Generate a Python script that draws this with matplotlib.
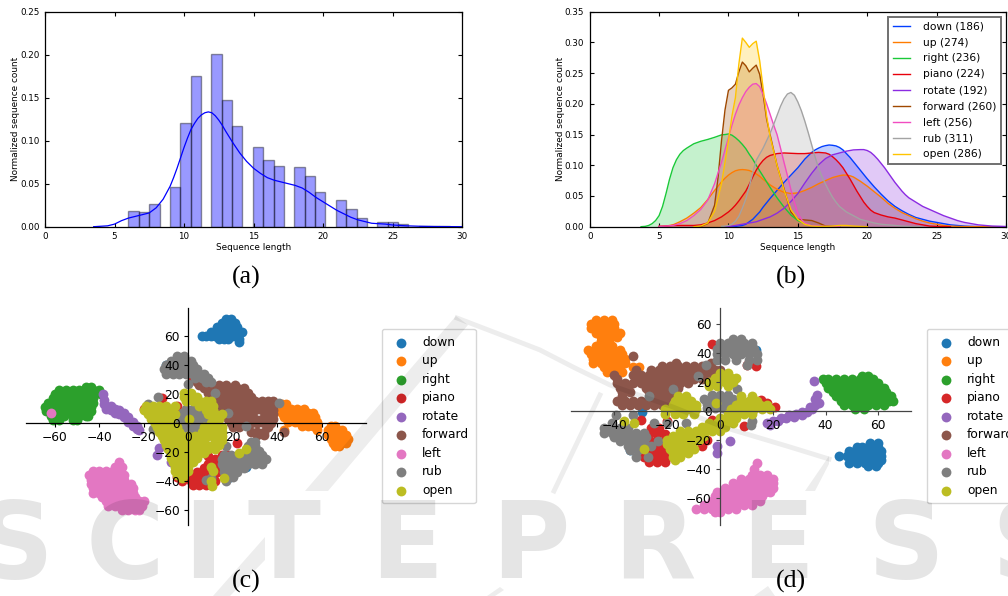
#!/usr/bin/env python3
# Sequence length histograms (a, b) and t-SNE scatters (c, d)
import matplotlib
matplotlib.use("Agg")
import matplotlib.pyplot as plt
from matplotlib.patches import Polygon
import numpy as np

W, H = 1008, 596

LABELS = ["down", "up", "right", "piano", "rotate", "forward", "left", "rub", "open"]
COUNTS = [186, 274, 236, 224, 192, 260, 256, 311, 286]
BRIGHT = ["#023eff", "#ff7c00", "#1ac938", "#e8000b", "#8b2be2",
          "#9f4800", "#f14cc1", "#a3a3a3", "#ffc400"]
TAB = ["#1f77b4", "#ff7f0e", "#2ca02c", "#d62728", "#9467bd",
       "#8c564b", "#e377c2", "#7f7f7f", "#bcbd22"]

# panel a: histogram + kde
bin_width = 0.746
bin_start = 6.0
hist_heights = [.018, .017, .026, 0, .046, .121, .175, 0, .201, .147, .117, 0,
                .093, .077, .071, 0, .069, .059, .040, 0, .031, .021, .010, 0,
                .006, .005, .003, 0, .001, .001, .001]
kde_all = [(3.5, 0), (4, .0005), (4.5, .001), (5, .003), (5.5, .007), (6, .010), (6.5, .012),
           (7, .014), (7.5, .016), (8, .022), (8.5, .032), (9, .047), (9.25, .057), (9.5, .068),
           (9.75, .080), (10, .092), (10.25, .103), (10.5, .113), (10.75, .120), (11, .126),
           (11.25, .130), (11.5, .1325), (11.75, .1335), (12, .1325), (12.25, .129), (12.5, .124),
           (12.75, .118), (13, .111), (13.5, .098), (14, .086), (14.5, .076), (15, .068),
           (15.5, .062), (16, .057), (16.5, .054), (17, .052), (17.5, .050), (18, .048),
           (18.5, .045), (19, .040), (19.5, .034), (20, .029), (20.5, .024), (21, .019),
           (21.5, .015), (22, .011), (22.5, .008), (23, .006), (23.5, .004), (24, .0035),
           (24.5, .003), (25, .002), (25.5, .0015), (26, .001), (27, .0005), (28, .0002), (30, 0)]

# panel b: one kde per class
kde_down = [(10, 0), (10.5, .0005), (11, .002), (11.25, .004), (11.5, .008), (11.75, .012), (12, .018),
            (12.25, .024), (12.5, .032), (12.75, .039), (13, .046), (13.5, .059), (14, .072),
            (14.5, .084), (15, .096), (15.5, .110), (16, .121), (16.25, .125), (16.5, .128), (16.75, .1305),
            (17, .132), (17.25, .133), (17.5, .1325), (17.75, .1315), (18, .129), (18.25, .125), (18.5, .119),
            (18.75, .113), (19, .106), (19.5, .092), (20, .078),
            (20.5, .065), (21, .053), (21.5, .042), (22, .033), (22.5, .026), (23, .020),
            (23.5, .015), (24, .012), (24.5, .009), (25, .007), (25.5, .005), (26, .003),
            (26.5, .002), (27, .001), (27.5, .0005), (28, .0002), (30, 0)]
kde_up = [(5, .0005), (5.5, .001), (6, .003), (6.5, .008), (7, .014), (7.5, .022), (8, .031),
          (8.5, .044), (9, .059), (9.5, .073), (9.75, .079), (10, .084), (10.25, .088), (10.5, .091),
          (10.75, .0925), (11, .093), (11.25, .0925), (11.5, .0915), (11.75, .089), (12, .086),
          (12.25, .082), (12.5, .077), (12.75, .073), (13, .068), (13.5, .061), (14, .056),
          (14.5, .054), (15, .055), (15.5, .059), (16, .064), (16.5, .070), (17, .075),
          (17.5, .080), (18, .083), (18.25, .084), (18.5, .084), (18.75, .083), (19, .081), (19.5, .074), (20, .066),
          (20.5, .057), (21, .048), (21.5, .038), (22, .030), (22.5, .023), (23, .018),
          (23.5, .013), (24, .009), (24.5, .006), (25, .004), (25.5, .002), (26, .001),
          (26.5, .0005), (27, .0002), (30, 0)]
kde_right = [(3.7, 0), (4, .0005), (4.25, .002), (4.5, .005), (4.75, .010), (5, .018), (5.25, .033),
             (5.5, .054), (5.75, .077), (6, .096), (6.25, .109), (6.5, .118), (6.75, .124),
             (7, .128), (7.5, .135), (8, .139), (8.5, .142), (9, .1455), (9.5, .1495), (9.75, .150),
             (10, .151), (10.25, .149), (10.5, .145), (10.75, .140), (11, .134), (11.25, .127),
             (11.5, .118), (11.75, .110), (12, .100), (12.25, .091), (12.5, .082), (12.75, .073),
             (13, .064), (13.5, .047), (14, .032), (14.5, .019), (15, .010), (15.5, .005),
             (16, .002), (16.5, .0007), (17, .0002), (18, 0)]
kde_piano = [(5, .0005), (5.5, .001), (6, .002), (7, .002), (7.5, .002), (8, .003), (8.5, .006),
             (9, .010), (9.5, .016), (9.75, .020), (10, .024), (10.25, .029), (10.5, .035),
             (10.75, .042), (11, .050), (11.25, .058), (11.5, .069), (11.75, .081), (12, .092),
             (12.25, .101), (12.5, .108), (12.75, .113), (13, .116), (13.5, .119), (14, .120),
             (14.5, .1195), (15, .119), (15.5, .119), (16, .12), (16.5, .121), (17, .12), (17.25, .118),
             (17.5, .114), (17.75, .109), (18, .103), (18.25, .096), (18.5, .087), (18.75, .078), (19, .068),
             (19.25, .058), (19.5, .049), (19.75, .040), (20, .033), (20.25, .027),
             (20.5, .023), (21, .019), (21.5, .016), (22, .014), (22.5, .011), (23, .008),
             (23.5, .005), (24, .003), (24.5, .001), (25, .0005), (26, 0)]
kde_rotate = [(9.75, 0), (10, .0005), (10.25, .001), (10.5, .002), (10.75, .003), (11, .004),
              (11.25, .005), (11.5, .006), (11.75, .007), (12, .008), (12.25, .010), (12.5, .012),
              (12.75, .014), (13, .016), (13.5, .022), (14, .030), (14.5, .041), (15, .054),
              (15.5, .071), (16, .087), (16.5, .101), (17, .111), (17.5, .117), (18, .120),
              (18.5, .123), (19, .125), (19.5, .1255), (19.75, .1255), (20, .124), (20.25, .121),
              (20.5, .116), (20.75, .110), (21, .103), (21.25, .096), (21.5, .088), (21.75, .080),
              (22, .072), (22.25, .065), (22.5, .058), (22.75, .052), (23, .047), (23.5, .040), (24, .033),
              (24.5, .028), (25, .023), (25.5, .018), (26, .014), (26.5, .010), (27, .007),
              (27.5, .005), (28, .003), (28.5, .002), (29, .001), (29.5, .0007), (30, .0003)]
kde_forward = [(7.5, 0), (8, .0005), (8.5, .005), (9, .035), (9.25, .08), (9.5, .14), (9.75, .19),
               (10, .222), (10.25, .226), (10.5, .232), (10.75, .252), (11, .268), (11.25, .262),
               (11.5, .252), (11.75, .258), (12, .263), (12.25, .248), (12.5, .215), (12.75, .175),
               (13, .150), (13.5, .100), (14, .062), (14.5, .024), (15, .012), (15.5, .011),
               (16, .010), (16.5, .006), (17, .001), (18, 0)]
kde_left = [(5, .0005), (5.5, .001), (6, .002), (6.5, .005), (7, .01), (7.5, .018), (8, .028),
            (8.5, .043), (9, .07), (9.5, .105), (9.75, .125), (10, .145), (10.25, .165), (10.5, .183),
            (10.75, .198), (11, .21), (11.25, .22), (11.5, .227), (11.75, .232), (12, .233),
            (12.25, .228), (12.5, .215), (12.75, .2), (13, .183), (13.25, .166), (13.5, .15), (13.75, .128),
            (14, .105), (14.25, .083), (14.5, .06), (14.75, .04), (15, .022), (15.25, .012),
            (15.5, .006), (16, .002), (17, .0005), (18, 0)]
kde_rub = [(9.5, .0005), (9.75, .001), (10, .002), (10.25, .004), (10.5, .009), (10.75, .017),
           (11, .03), (11.25, .045), (11.5, .065), (11.75, .088), (12, .108), (12.25, .118),
           (12.5, .128), (12.75, .14), (13, .152), (13.25, .166), (13.5, .181), (13.75, .196),
           (14, .208), (14.25, .216), (14.5, .2185), (14.75, .214), (15, .203), (15.25, .189),
           (15.5, .172), (15.75, .153), (16, .133), (16.25, .113), (16.5, .095), (16.75, .081),
           (17, .069), (17.25, .058), (17.5, .048), (17.75, .040), (18, .033), (18.5, .024),
           (19, .018), (19.5, .012), (20, .009), (20.5, .006),
           (21, .004), (21.5, .003), (22, .002), (22.5, .001), (23, .0005), (24, 0)]
kde_open = [(7.5, 0), (8, .001), (8.5, .006), (9, .025), (9.5, .07), (9.75, .105), (10, .14),
            (10.25, .18), (10.5, .21), (10.75, .265), (11, .307), (11.25, .30), (11.5, .292),
            (11.75, .298), (12, .302), (12.25, .27), (12.5, .225), (12.75, .18), (13, .147),
            (13.5, .100), (14, .06), (14.5, .028), (15, .012), (15.5, .004), (16, .001),
            (16.5, .0005), (17, .0005), (17.5, .001), (18, .002), (18.5, .002), (19, .001),
            (19.5, .0005), (20, 0)]
KDES = [kde_down, kde_up, kde_right, kde_piano, kde_rotate, kde_forward, kde_left, kde_rub, kde_open]

# panel c: embedding points, as (y, [x, ...]) rows
c_down = [(72, [17, 19]), (69, [15, 17, 19, 21]), (66, [13, 15, 17, 19, 21, 22]),
          (63, [10, 12, 14, 16, 18, 20, 22, 24]), (60, [6, 8, 10, 12, 14, 16, 18, 20, 22]),
          (58, [14, 16, 18, 23]), (56, [23]), (40, [-10]), (-30, [26]), (-38, [18])]
c_up = [(13, [42, 44]), (10, [42, 44, 46, 49, 52]), (7, [42, 44, 46, 48, 50, 52, 54, 56]),
        (4, [43, 45, 47, 49, 51, 53, 55, 57]), (1, [45, 48, 50, 52, 54, 56, 58]),
        (-2, [51, 54, 56, 58, 64, 66]), (-5, [43, 58, 63, 65, 67, 69]), (-8, [63, 65, 67, 69, 71]),
        (-11, [64, 66, 68, 70, 72]), (-14, [65, 67, 69, 71]), (-16, [66, 68])]
c_right = [(25, [-46, -44]), (23, [-58, -55, -52, -49, -46, -43, -40]),
           (20, [-60, -57, -54, -51, -48, -45, -42, -39.5]), (17, [-61, -58, -55, -52, -49, -46, -43]),
           (14, [-63, -60, -57, -54, -51, -48, -45, -43]), (11, [-64.5, -61, -58, -55, -52, -49, -46, -44]),
           (8, [-64, -61, -58, -55, -52, -49, -46, -44]), (5, [-62, -59, -56, -52, -49, -46, -45]),
           (2, [-61, -58, -52, -50])]
c_piano = [(-22, [15, 18]), (-25, [12, 15]), (-28, [9, 12, 15]), (-31, [7, 10, 13]), (-34, [4, 7, 10, 13]),
           (-37, [2, 5, 8, 11, -5]), (-40, [-3, 1, 3, 6, 9, 12]), (-43, [2, 5, 8]), (-14, [22]), (10, [-20]),
           (17, [-12]), (12, [-5]), (30, [1.5]), (-21, [-7]), (-23, [9]), (-16, [5])]
c_rotate = [(20, [-38.5]), (16, [-38]), (13, [-38]), (10, [-37, -33]), (12, [-35]), (9, [-35, -31]), (7, [-33]),
            (6, [-31]), (7, [-29]), (4, [-29, -27]), (1, [-27, -25]), (-2, [-25, -23]), (-4, [-23]), (-5, [-22]),
            (-17, [-13]), (-22, [-14]), (-27, [-8])]
c_forward = [(28, [4]), (26, [5, 8, 10, 14, 17, 21]), (24, [7, 10, 13, 16, 19, 22, 25]),
             (21, [9, 12, 15, 18, 21, 24, 27]), (18, [10, 13, 16, 19, 22, 25, 28]),
             (15, [12, 15, 18, 21, 24, 27, 30, 33, 36, 38]), (12, [14, 17, 20, 23, 26, 29, 32, 35, 38]),
             (9, [15, 18, 21, 24, 27, 30, 33, 36, 38]), (6, [16, 19, 22, 25, 28, 36, 38]),
             (3, [18, 21, 24, 27, 30, 33, 36, 38]), (0, [19, 22, 25, 28, 31, 34, 37]), (-3, [20, 23, 36]),
             (-6, [28, 31, 34, 43]), (-8, [31, 34])]
c_left = [(-27, [-31]), (-30, [-33, -30]), (-33, [-43, -40, -37, -34, -31]),
          (-36, [-44.5, -41, -38, -35, -32, -29]), (-39, [-44, -41, -38, -35, -32, -29]),
          (-42, [-44, -41, -38, -35, -32, -29, -26]), (-45, [-43, -40, -37, -34, -31, -28, -25]),
          (-48, [-43, -40, -37, -34, -31, -28, -25]), (-51, [-39, -36, -33, -30, -27, -24]),
          (-54, [-37, -34, -31, -28, -25, -22, -20]), (-57, [-36, -33, -30, -27, -24, -21]),
          (-60, [-30, -27, -24, -22]), (7, [-62])]
c_rub = [(46, [-5, -2]), (43, [-8, -5, -2, 1]), (40, [-10, -7, -4, -1, 2]), (37, [-11, -8, -5, -2, 1, 4]),
         (34, [-10, -7, -4, -1, 2, 5, 7]), (31, [3, 6, 9]), (28, [8, 10]), (27, [0]), (21, [12]),
         (10, [-1, 2]), (7, [-3, 0, 3, 5, 18]), (4, [-4, -1, 2, 5, 7]), (1, [-4, -1, 2, 5, 7]),
         (-2, [-3, 0, 3, 6, 26]), (-4, [0, 3, -16]), (14, [41]), (18, [-13.5]), (13, [-18]),
         (-13, [28, 30]), (-16, [17, 27, 30]), (-19, [26, 29, 32]), (-22, [16, 19, 24, 27, 30, 33]),
         (-25, [15, 18, 21, 24, 27, 30, 33, 35]), (-28, [15, 18, 21, 24, 27, 30, 33]),
         (-31, [16, 19, 22, 25]), (-34, [16, 19, 22]), (-37, [17, 20]), (-40, [17]), (-39, [8]), (-38, [10])]
c_open = [(21, [-2, 1]), (18, [-2, 1, 4]), (15, [-1, 2, 5, 8, 10]), (12, [-19, -16, -13, -10, -6, 5, 8, 11]),
          (9, [-20, -17, -14, -11, -8, 8, 11]), (6, [-18, -15, -12, -9, -6, 9, 12, 15]),
          (3, [-17, -14, -11, -8, 0.5, 11, 14]), (0, [-15, -12, -9, 10, 13]),
          (-3, [-14, -11, -8, -5, 7, 10, 13, 15]), (-6, [-13, -10, -7, -4, 6, 9, 12, 15]),
          (-9, [-12, -9, -6, -3, 0, 3, 6, 9, 12, 15]), (-12, [-11, -8, -5, -2, 1, 4, 7, 12, 15]),
          (-15, [-10, -7, -4, -1, 2, 5, 8, 11, 14]), (-18, [-9, -6, -3, 0, 3, 6, 9, 12, 26]),
          (-21, [-8, -5, -2, 1, 4, 7, 23]), (-24, [-8, -5, -2, 1, 4]), (-27, [-7, -4, -1, 2]),
          (-30, [-6, -3, 0, 10]), (-33, [-6, -3, 0, 11]), (-36, [-5, -2]), (-38, [-3, 16]),
          (-40, [10]), (-43.5, [10.5])]
C_POINTS = [c_down, c_up, c_right, c_piano, c_rotate, c_forward, c_left, c_rub, c_open]

# panel d
d_down = [(-22, [57, 60]), (-25, [52, 54, 56, 58, 60]), (-28, [49, 51, 53, 55, 57, 59, 61]),
          (-31, [45, 48, 50, 52, 54, 56, 58, 60, 61]), (-34, [50, 52, 54, 56, 58, 60, 61]),
          (-36, [49, 52, 55, 58, 60]), (-38, [56, 59]), (-1, [-29.5]), (42, [13.5]), (-27, [-34])]
d_up = [(63, [-47, -44, -41]), (60, [-49, -46, -43, -40]), (57, [-49, -46, -43, -40]),
        (54, [-47, -44, -41, -38]), (51, [-45, -42, -39]), (48, [-45, -42]), (45, [-47, -44, -41]),
        (42, [-50, -47, -44, -41, -38]), (39, [-49, -46, -43, -40, -37]), (36, [-48, -45, -42, -39, -36]),
        (33, [-48, -45, -42, -39, -36]), (30, [-44, -41, -38, -33, -30.7]), (27, [-43, -40, -37])]
d_right = [(24, [54, 56]), (22, [39, 41, 44, 47, 50, 53, 56, 58]), (19, [40, 43, 46, 49, 52, 55, 58, 60]),
           (16, [41, 44, 47, 50, 53, 56, 59, 62]), (13, [43, 46, 49, 52, 55, 58, 61, 63]),
           (10, [44, 47, 50, 53, 56, 59, 62, 65]), (7, [46, 49, 52, 55, 58, 61, 64, 65.5]),
           (4, [47, 50, 53, 56, 59, 62]), (1.5, [51, 54.6])]
d_piano = [(-12, [-26, -23]), (-16, [-27, -24, -21]), (-20, [-27, -24, -21, -5]), (-24, [-26, -23, -20, -6.7]),
           (-21, [-10]), (-28, [-28, -25, -22, -19]), (-32, [-29, -26, -23, -20]), (-35, [-27, -24, -21]),
           (46, [-3]), (31, [13.5]), (32, [10.4]), (2.5, [21]), (7.4, [15.4]), (5.5, [18]), (-10.6, [9]),
           (-6.5, [-30]), (-6, [-3]), (-7, [-20])]
d_rotate = [(20.5, [35.7]), (11, [36.7]), (8, [36]), (5.5, [37.5]), (4, [36]), (3, [34]), (1, [35]),
            (-1, [33, 31]), (-3, [31, 26]), (-2, [29]), (-4, [28]), (-5, [25, 23]), (-7, [22, 20]), (-8, [18]),
            (-10, [19]), (-20.5, [3.8]), (-24.5, [-1]), (-29, [-1])]
d_forward = [(38, [-33]), (33, [-16.8, -3.5]), (31, [-22, -19, -16, -13, -10, -7, -4]),
             (28, [-32, -26, -23, -20, -17, -14, -11, -8, -5, -2, 0]),
             (25, [-40, -33, -30, -27, -24, -21, -18, -15, -12, -9, -6, -3]),
             (22, [-39, -31, -28, -25, -22, -19, -16, -13, -10, -7]),
             (19, [-39, -36, -33, -30, -27, -24, -21, -18, -15, -12]),
             (16, [-38, -35, -28, -25, -22, -19, -16]), (13, [-37, -34, -27, -24, -21, -18]),
             (10, [-37, -25, -22, -19]), (7, [-39, -36, -33, -30, -27, -24, -21]),
             (4, [-37, -34, -31, -28, -25, -22, -20])]
d_left = [(-36, [14]), (-40, [13]), (-44, [12, 15, 18]), (-47, [8, 11, 14, 17, 20]), (-50, [5, 8, 11, 14, 17, 20]),
          (-53, [2, 5, 8, 11, 14, 17, 20]), (-56, [-1, 2, 5, 8, 11, 14, 17, 19]), (-59, [-2, 1, 4, 7, 10, 13, 16]),
          (-62, [-3, 0, 3, 6, 9, 12, 15]), (-65, [-6, -3, 0, 3, 6, 9, 12]), (-68, [-9, -6, -3, 0, 3, 6]),
          (-70, [-2, 0])]
d_rub = [(50, [5, 8]), (47, [0, 3, 6, 9, 12]), (43, [-1, 2, 5, 8, 11, 13]), (39, [-1, 2, 5, 8, 11, 14]),
         (35, [-1, 2, 6, 11, 14]), (32, [10.4, -5.4]), (24, [-8.2]), (14.8, [-18, 6.3]), (10.6, [-27]),
         (11, [-3, 0, 3]), (8, [-6, -3, 0, 3, 5]), (5, [-5, -2, 1, 4]), (2, [-5, -2, 1, 4]), (-9.5, [11.6]),
         (-7, [12.3]), (-3, [-39.6, -33]), (-8, [-41, -25, -13, -20]), (-12, [-44, -41, -38, -35]),
         (-15, [-44, -41, -38, -35, -32, -29]), (-18, [-40, -37, -34, -31, -28]), (-21, [-38, -35, -32, -29, -23.5]),
         (-24, [-35, -32, -29, -26]), (-27, [-34, -31]), (-32, [-31.7, -27.3])]
d_open = [(26, [0, 3]), (23, [-2, 1, 4, 6]), (20, [-4, -1, 2, 5]), (17, [-4, -1, 3]), (10, [-16, -13, 8, 12]),
          (7, [-17, -14, -11, 8, 11, 14]), (4, [-18, -15, -12, -9, 6, 9, 12, 15, 18]), (5.5, [-1.5]),
          (1, [-21, -18, -15, -12, -9, 4, 7, 10, 13, 16, 19]), (-2, [-21, -17, -14, -10, 3, 6, 9, 12]),
          (-5, [0, 3, 6]), (-8, [-4, -1, 2, 5, -32.6]), (-7, [-36.4]), (-11, [-7, -4, -1, 2]),
          (-14, [-15, -12, -9, -6, -3, 0]), (-17, [-18, -15, -12, -9, -6]), (-20, [-20, -17, -14, -11, -8]),
          (-23, [-20, -17, -14, -11]), (-26, [-19, -16, -13, -10, -29]), (-29, [-18, -15, -12]),
          (-32, [-18, -15]), (-34, [-17])]
D_POINTS = [d_down, d_up, d_right, d_piano, d_rotate, d_forward, d_left, d_rub, d_open]


def px_axes(left, top, right, bottom):
    return fig.add_axes([left / W, 1 - bottom / H, (right - left) / W, (bottom - top) / H])


def style_top(ax, ymax, ystep):
    ax.set_xlim(0, 30)
    ax.set_ylim(0, ymax)
    ax.set_xticks(range(0, 31, 5))
    ax.set_yticks(np.arange(0, ymax + 0.001, ystep))
    ax.set_yticklabels(["%.2f" % v for v in np.arange(0, ymax + 0.001, ystep)])
    ax.tick_params(direction="in", top=True, right=True, length=3, width=0.8, labelsize=6.3, pad=4)
    for s in ax.spines.values():
        s.set_linewidth(0.9)
    ax.set_xlabel("Sequence length", fontsize=6.4)
    ax.set_ylabel("Normalized sequence count", fontsize=6.4)
    ax.xaxis.set_label_coords(0.5, -0.075)
    ax.yaxis.set_label_coords(-0.06, 0.5)


def scatter_panel(ax, points, xlim, ylim, xticks, spine_color, leg_x):
    for cls, rows, col in zip(LABELS, points, TAB):
        xs = [x for y, row in rows for x in row]
        ys = [y for y, row in rows for x in row]
        ax.scatter(xs, ys, s=50, color=col, linewidths=0, label=cls)
    ax.set_xlim(*xlim)
    ax.set_ylim(*ylim)
    ax.set_xticks(xticks)
    ax.set_yticks(range(-60, 61, 20))
    ax.spines["left"].set_position("zero")
    ax.spines["bottom"].set_position("zero")
    ax.spines["top"].set_visible(False)
    ax.spines["right"].set_visible(False)
    for s in ["left", "bottom"]:
        ax.spines[s].set_color(spine_color)
        ax.spines[s].set_linewidth(0.9)
    ax.tick_params(labelsize=8.8, length=3, width=0.8, color=spine_color, pad=3)
    ax.patch.set_alpha(0)
    ax.legend(loc="upper left", bbox_to_anchor=(leg_x / W, 1 - 329 / H),
              bbox_transform=fig.transFigure, borderaxespad=0, fontsize=8.8,
              labelspacing=0.45, handletextpad=0.75, borderpad=0.55, scatterpoints=1)


fig = plt.figure(figsize=(W / 100, H / 100), dpi=100, facecolor="white")

# (a)
ax_a = px_axes(45, 11.7, 462, 226.7)
edges = bin_start + bin_width * np.arange(len(hist_heights))
keep = np.array(hist_heights) > 0
ax_a.bar(edges[keep], np.array(hist_heights)[keep], width=bin_width, align="edge",
         color="blue", alpha=0.4, edgecolor="black", linewidth=1.0)
kde_xy = np.array(kde_all)
ax_a.plot(kde_xy[:, 0], kde_xy[:, 1], color="blue", lw=0.9)
style_top(ax_a, 0.25, 0.05)

# (b)
ax_b = px_axes(589.7, 11.7, 1006, 226.7)
for cls, n, pts, col in zip(LABELS, COUNTS, KDES, BRIGHT):
    xy = np.array(pts)
    ax_b.fill_between(xy[:, 0], 0, xy[:, 1], color=col, alpha=0.25, linewidth=0)
    ax_b.plot(xy[:, 0], xy[:, 1], color=col, lw=1.0, label="%s (%d)" % (cls, n))
style_top(ax_b, 0.35, 0.05)
leg_b = ax_b.legend(loc="upper left", bbox_to_anchor=(888.3 / W, 1 - 16.7 / H),
                    bbox_transform=fig.transFigure, borderaxespad=0, fontsize=7.7,
                    fancybox=False, framealpha=1, edgecolor="#707070",
                    labelspacing=0.56, handlelength=1.6, handletextpad=1.15, borderpad=0.45)
leg_b.get_frame().set_linewidth(1.4)

# (c) (d)
ax_c = px_axes(25.7, 307.7, 365.7, 525.3)
scatter_panel(ax_c, C_POINTS, (-73.2, 79.8), (-70.5, 79.5), range(-60, 61, 20), "black", 381.7)
ax_d = px_axes(570.7, 307.7, 910.7, 525.3)
scatter_panel(ax_d, D_POINTS, (-56.6, 72.3), (-79, 71.3), range(-40, 61, 20), "#444444", 926.7)

# captions + page watermark on a pixel overlay
over = fig.add_axes([0, 0, 1, 1], zorder=5)
over.set_xlim(0, W)
over.set_ylim(H, 0)
over.axis("off")
for cap, cx, cy in [("(a)", 246.7, 277), ("(b)", 791, 277), ("(c)", 246.7, 581), ("(d)", 791, 581)]:
    over.text(cx, cy, cap, ha="center", va="center", fontsize=18.6, family="Liberation Serif", zorder=7)

WATERMARK = "SCITEPRESS"
mark_centres = [15, 125, 203, 284, 407, 530, 654, 778, 906, 1030]
for ch, cx in zip(WATERMARK, mark_centres):
    over.text(cx, 578, ch, ha="center", va="baseline", fontsize=77, fontweight="bold",
              color="black", alpha=0.1, zorder=6)

for poly in [[(456, 316), (468, 325), (328, 491), (305, 491)],
             [(265, 537), (265, 560), (230, 596), (213, 596)],
             [(487, 596), (500, 587), (504, 590), (495, 596)],
             [(754, 596), (768, 586), (775, 596)],
             [(829, 456), (829, 464), (815, 491), (805, 491)]]:
    over.add_patch(Polygon(poly, closed=True, facecolor="black", alpha=0.07, linewidth=0, zorder=6))
arc_x = [457, 504, 540, 575, 610, 673, 723, 790, 829]
arc_y = [318, 336, 350, 368, 385, 407, 427, 447, 459]
over.plot(arc_x, arc_y, color="black", alpha=0.07, lw=3.5, zorder=6)
over.plot([600, 554], [395, 491], color="black", alpha=0.07, lw=3.5, zorder=6)

fig.savefig("out.png", dpi=100, facecolor="white")
plt.close(fig)
